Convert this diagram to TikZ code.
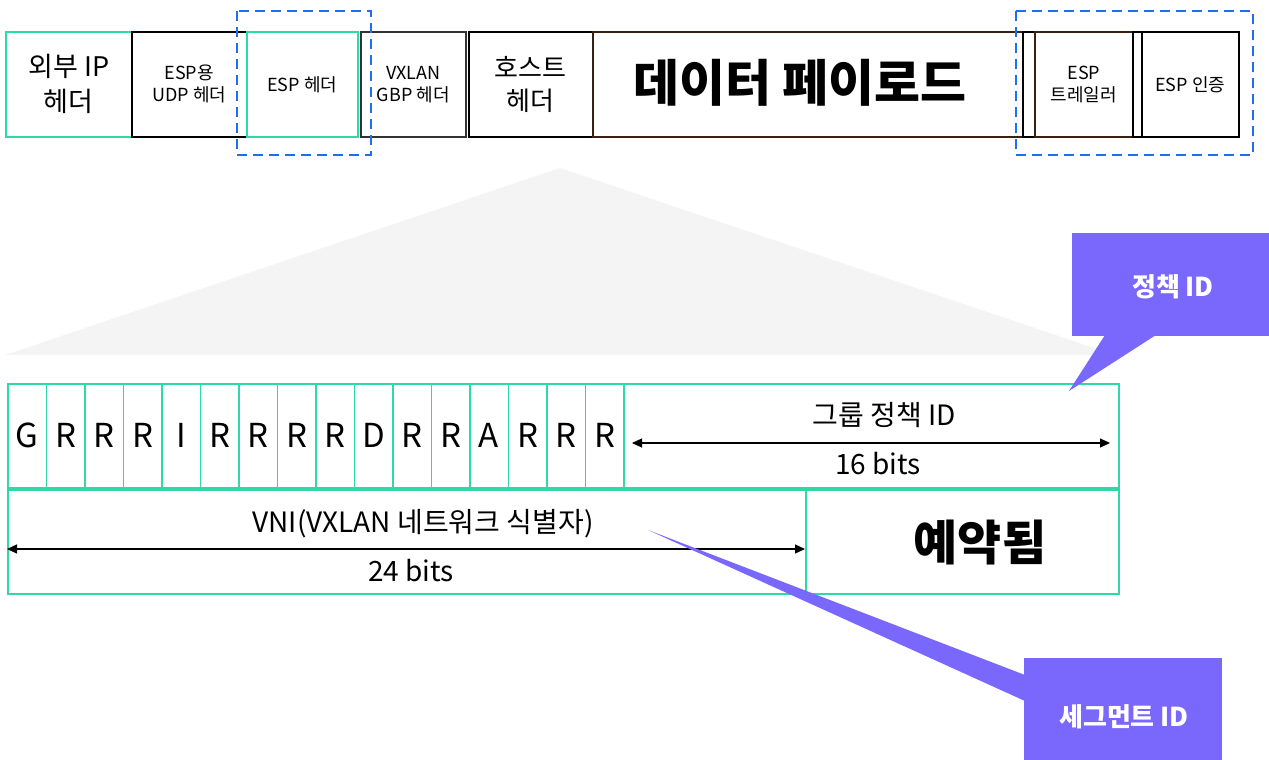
\documentclass[tikz,border=0pt]{standalone}
\usepackage{fontspec}
\setmainfont{Noto Sans CJK KR}
\usetikzlibrary{arrows.meta}
\definecolor{grn}{HTML}{2ED8A7}
\definecolor{dblue}{HTML}{1E6FF0}
\definecolor{purp}{HTML}{7A67FB}
\definecolor{brn}{HTML}{3A2010}
\definecolor{tri}{HTML}{F4F4F4}
\begin{document}
\begin{tikzpicture}[x=1pt,y=-1pt,
  fbox/.style={draw, line width=1.6pt, anchor=north west, minimum height=105pt, align=center, inner sep=0pt},
  small/.style={font=\fontsize{18}{22}\selectfont},
  cell/.style={draw=grn, line width=1.5pt, anchor=north west, minimum height=104pt, minimum width=38.5pt, inner sep=0pt, font=\fontsize{33}{35}\selectfont},
  big/.style={draw=grn, line width=1.8pt, anchor=north west, minimum height=104pt, inner sep=0pt},
  lbl/.style={inner sep=0pt, font=\fontsize{28}{30}\selectfont},
  dbox/.style={draw=dblue, line width=1.6pt, dash pattern=on 10pt off 6pt},
  dim/.style={line width=1.2pt, {Triangle[length=10pt,width=9pt]}-{Triangle[length=10pt,width=9pt]}},
  callout/.style={fill=purp},
  ctext/.style={text=white, font=\bfseries\fontsize{26}{28}\selectfont, inner sep=0pt}
]
\useasboundingbox (0,0) rectangle (1269,760);
% zoom triangle
\fill[tri] (560,168) -- (5,355) -- (1115,355) -- cycle;
% top packet row
\node[fbox, draw=grn, minimum width=126pt, font=\fontsize{27}{35}\selectfont] (oip) at (5,31) {외부 IP\\헤더};
\node[fbox, draw=black, minimum width=115pt, small] (udp) at (131,31) {ESP용\\UDP 헤더};
\node[fbox, draw=grn, minimum width=111pt, small] (esph) at (246,31) {ESP 헤더};
\node[fbox, draw=black!80, minimum width=105pt, small] (vx) at (360,31) {VXLAN\\GBP 헤더};
\node[fbox, draw=black, minimum width=124pt, font=\fontsize{26}{33}\selectfont] (host) at (468,31) {호스트\\헤더};
\node[fbox, draw=brn, minimum width=430pt] (pay) at (592,31) {};
\node[inner sep=0pt, font=\bfseries\fontsize{50}{54}\selectfont] (payt) at (800,83) {데이터 페이로드};
\node[fbox, draw=black, minimum width=12pt] (pad1) at (1022,31) {};
\node[fbox, draw=brn, minimum width=98pt, small] (trl) at (1034,31) {ESP\\트레일러};
\node[fbox, draw=black, minimum width=9pt] (pad2) at (1132,31) {};
\node[fbox, draw=black, minimum width=97pt, small] (auth) at (1141,31) {ESP 인증};
% dashed groups
\draw[dbox] (237,11) rectangle (371,155);
\draw[dbox] (1016,11) rectangle (1253,155);
% header bits
\foreach \i/\l in {0/G,1/R,2/R,3/R,4/I,5/R,6/R,7/R,8/R,9/D,10/R,11/R,12/A,13/R,14/R,15/R}{
  \node[cell] (b\i) at ({7+38.5*\i},383) {\l};
}
\node[big, minimum width=495pt] (gp) at (623,383) {};
\node[big, minimum width=798pt] (vni) at (7,489) {};
\node[big, minimum width=313pt] (res) at (805,489) {};
\node[inner sep=0pt, font=\bfseries\fontsize{48}{50}\selectfont] (rest) at (980,543) {예약됨};
% labels and dimension arrows
\node[lbl] (gpt) at (884,415) {그룹 정책 ID};
\node[lbl] (gpb) at (878,464) {16 bits};
\coordinate (gpl) at (632,443);
\coordinate (gpr) at (1110,443);
\draw[dim] (gpl) -- (gpr);
\node[lbl] (vnit) at (423,524) {VNI(VXLAN 네트워크 식별자)};
\node[lbl] (vnib) at (411,571) {24 bits};
\coordinate (vl) at (7,549);
\coordinate (vr) at (805,549);
\draw[dim] (vl) -- (vr);
% callouts
\fill[callout] (1072,233) rectangle (1269,336);
\coordinate (pt1) at (1069,391);
\fill[callout] (1105,335) -- (pt1) -- (1156,335) -- cycle;
\node[ctext] (pol) at (1173,287) {정책 ID};
\fill[callout] (1024,658) rectangle (1222,760);
\coordinate (pt2) at (648,530);
\fill[callout] (1025,675) -- (pt2) -- (1025,701) -- cycle;
\node[ctext] (seg) at (1124,717) {세그먼트 ID};
\end{tikzpicture}
\end{document}
